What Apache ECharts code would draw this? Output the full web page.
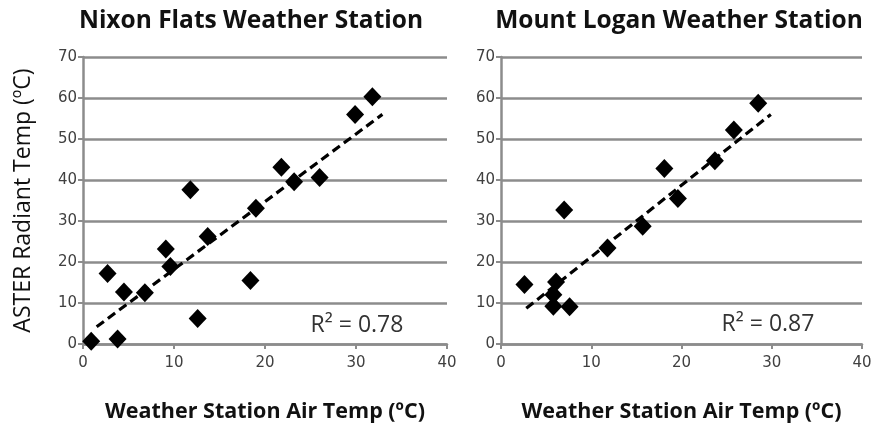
<!DOCTYPE html>
<html>
<head>
<meta charset="utf-8">
<script src="https://cdn.jsdelivr.net/npm/echarts@6/dist/echarts.min.js"></script>
<style>
html,body{margin:0;padding:0;background:#fff;}
#c{width:879px;height:428px;}
</style>
</head>
<body>
<div id="c"></div>
<script>
// ---- data ----
var titles = ['Nixon Flats Weather Station', 'Mount Logan Weather Station'];
var xAxisTitle = 'Weather Station Air Temp (ºC)';
var yAxisTitle = 'ASTER Radiant Temp (ºC)';
var r2Labels = ['R² = 0.78', 'R² = 0.87'];

var nixonX = [0.9, 3.8, 2.7, 4.5, 6.8, 9.1, 9.6, 11.8, 12.6, 13.7, 18.4, 19.0, 21.8, 23.2, 26.0, 29.9, 31.8];
var nixonY = [0.7, 1.2, 17.2, 12.7, 12.5, 23.2, 18.9, 37.6, 6.2, 26.2, 15.5, 33.1, 43.1, 39.6, 40.6, 56.0, 60.3];

var loganX = [2.6, 6.1, 5.8, 5.8, 7.6, 7.0, 11.8, 15.7, 18.1, 19.6, 23.7, 25.8, 28.5];
var loganY = [14.5, 15.1, 12.0, 9.2, 9.1, 32.7, 23.4, 28.7, 42.8, 35.5, 44.7, 52.2, 58.7];

var nixonTrendX = [1.5, 32.9];
var nixonTrendY = [4.2, 56.0];
var loganTrendX = [2.8, 29.9];
var loganTrendY = [8.7, 56.0];

var xMin = 0, xMax = 40, xStep = 10;
var yMin = 0, yMax = 70, yStep = 10;

function pairs(xs, ys) { return xs.map(function (x, i) { return [x, ys[i]]; }); }

var gridColor = '#8c8c8c';
var labelColor = '#404040';

function xAx(i) {
  return {
    gridIndex: i, type: 'value', min: xMin, max: xMax, interval: xStep,
    name: xAxisTitle, nameLocation: 'middle', nameGap: 57,
    nameTextStyle: { fontFamily: 'Open Sans', fontWeight: 'bold', fontSize: 21.5, color: '#111' },
    axisLine: { show: true, lineStyle: { color: gridColor, width: 2.5 } },
    axisTick: { show: true, length: 5, lineStyle: { color: gridColor, width: 2 } },
    axisLabel: { margin: 12, color: labelColor, fontFamily: 'DejaVu Sans', fontSize: 15 },
    splitLine: { show: false }
  };
}
function yAx(i) {
  var a = {
    gridIndex: i, type: 'value', min: yMin, max: yMax, interval: yStep,
    axisLine: { show: true, lineStyle: { color: gridColor, width: 2.5 } },
    axisTick: { show: true, length: 5, lineStyle: { color: gridColor, width: 2 } },
    axisLabel: { margin: 6, color: labelColor, fontFamily: 'DejaVu Sans', fontSize: 15 },
    splitLine: { show: true, lineStyle: { color: gridColor, width: 2.5 } }
  };
  if (i === 0) {
    a.name = yAxisTitle;
    a.nameLocation = 'middle';
    a.nameGap = 48;
    a.nameTextStyle = { fontFamily: 'Open Sans', fontSize: 23, color: '#111' };
  }
  return a;
}

function scatter(i, xs, ys) {
  return {
    type: 'scatter', xAxisIndex: i, yAxisIndex: i,
    data: pairs(xs, ys), symbol: 'diamond', symbolSize: [18, 19],
    itemStyle: { color: '#000', opacity: 1 }, z: 3
  };
}
function trend(i, xs, ys) {
  return {
    type: 'line', xAxisIndex: i, yAxisIndex: i, data: pairs(xs, ys),
    symbol: 'none', silent: true, z: 4,
    lineStyle: { color: '#000', width: 3.2, type: [9, 5] }
  };
}

var chart = echarts.init(document.getElementById('c'), null, { renderer: 'canvas' });
chart.setOption({
  animation: false,
  backgroundColor: '#fff',
  grid: [
    { left: 83, top: 57, width: 364, height: 289 },
    { left: 501, top: 57, width: 361, height: 289 }
  ],
  xAxis: [xAx(0), xAx(1)],
  yAxis: [yAx(0), yAx(1)],
  series: [
    trend(0, nixonTrendX, nixonTrendY),
    scatter(0, nixonX, nixonY),
    trend(1, loganTrendX, loganTrendY),
    scatter(1, loganX, loganY)
  ],
  graphic: [
    { type: 'text', x: 251, y: 21, style: { text: titles[0], fontFamily: 'Open Sans', fontWeight: 'bold', fontSize: 24.5, fill: '#111', align: 'center', verticalAlign: 'middle' } },
    { type: 'text', x: 679, y: 21, style: { text: titles[1], fontFamily: 'Open Sans', fontWeight: 'bold', fontSize: 24.5, fill: '#111', align: 'center', verticalAlign: 'middle' } },
    { type: 'text', x: 357, y: 325, style: { text: r2Labels[0], fontFamily: 'Open Sans', fontSize: 23, fill: '#333', align: 'center', verticalAlign: 'middle' } },
    { type: 'text', x: 768, y: 324, style: { text: r2Labels[1], fontFamily: 'Open Sans', fontSize: 23, fill: '#333', align: 'center', verticalAlign: 'middle' } }
  ]
});
</script>
</body>
</html>
